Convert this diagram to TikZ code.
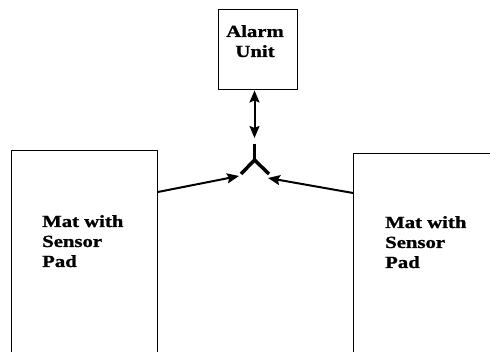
\documentclass[tikz,border=0pt]{standalone}
\usepackage{fontspec}
\newfontfamily\lbl[FakeStretch=1.22,FakeBold=1.2]{Liberation Serif}
\usetikzlibrary{arrows.meta}
\begin{document}
\begin{tikzpicture}[x=1pt,y=1pt,
  box/.style={draw=black,line width=0.9pt,inner sep=0pt},
  lbltext/.style={inner sep=0pt,font=\lbl\bfseries\fontsize{17}{20}\selectfont},
  tip/.style={Stealth[length=12pt,width=10pt,inset=2pt]},
  conn/.style={line width=2pt,-{Stealth[length=12pt,width=10pt,inset=2pt]}},
  fork/.style={line width=3.5pt,line cap=butt}]
\useasboundingbox (0,0) rectangle (490,352);
\clip (0,0) rectangle (490,352);
% boxes (pixel y -> 352 - y)
\node[box,minimum width=79pt,minimum height=80pt] (alarm) at (257.5,303) {};
\node[box,minimum width=146pt,minimum height=220pt,anchor=north west] (leftmat) at (11,202) {};
\node[box,minimum width=150pt,minimum height=220pt,anchor=north west] (rightmat) at (353,199) {};
% texts
\node[lbltext,align=center,anchor=north] (alarmtxt) at (255,327) {Alarm\\Unit};
\node[lbltext,align=left,anchor=north west] (lefttxt) at (42,137) {Mat with\\Sensor\\Pad};
\node[lbltext,align=left,anchor=north west] (righttxt) at (385,136) {Mat with\\Sensor\\Pad};
% fork
\coordinate (stemtop) at (254.5,208);
\coordinate (forkc) at (254.5,192);
\coordinate (forkl) at (241,178);
\coordinate (forkr) at (269,178);
\draw[fork] (stemtop) -- (forkc);
\draw[fork,line join=miter] (forkl) -- (forkc) -- (forkr);
% arrows
\coordinate (arrbot) at (254.5,214);
\draw[line width=2pt,{Stealth[length=12pt,width=10pt,inset=2pt]}-{Stealth[length=12pt,width=10pt,inset=2pt]}] ([yshift=-1pt]alarm.south -| arrbot) -- (arrbot);
\coordinate (lend) at (239,176);
\coordinate (rend) at (268,174);
\draw[conn] ([yshift=-42pt]leftmat.north east) -- (lend);
\draw[conn] ([yshift=-40pt]rightmat.north west) -- (rend);
\end{tikzpicture}
\end{document}
